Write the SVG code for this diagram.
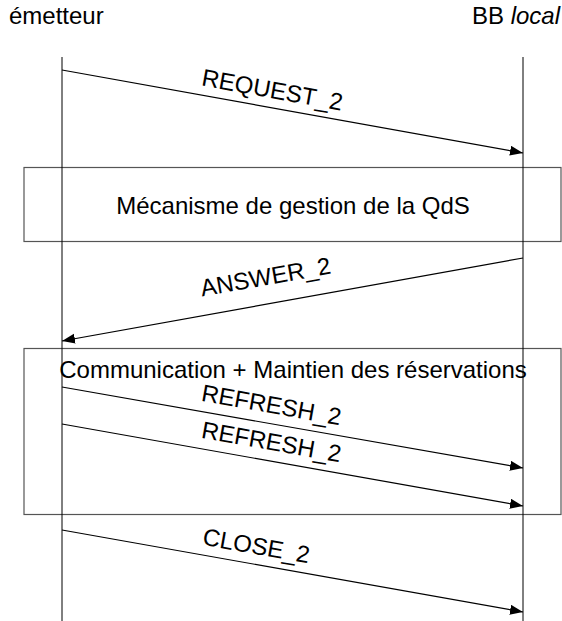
<svg xmlns="http://www.w3.org/2000/svg" width="562" height="621" viewBox="0 0 562 621">
<style>
text { font-family: "Liberation Sans", Arial, sans-serif; fill: #000; }
.h { font-size: 24px; }
.lbl { font-size: 24px; text-anchor: middle; }
.box { fill: none; stroke: #555; stroke-width: 1.2; }
.life { stroke: #000; stroke-width: 1; fill: none; }
.msg { stroke: #000; stroke-width: 1.2; fill: none; marker-end: url(#ah); }
</style>
<defs>
<marker id="ah" markerWidth="14" markerHeight="12" refX="13" refY="5" orient="auto" markerUnits="userSpaceOnUse">
<path d="M0,0 L13,5 L0,10 Z" fill="#000"/>
</marker>
</defs>
<g id="emetteur"><text class="h" x="9" y="24">émetteur</text></g>
<g id="bblocal"><text class="h" x="560" y="24" text-anchor="end">BB <tspan font-style="italic">local</tspan></text></g>
<g id="box-qds">
<rect class="box" x="24" y="167.5" width="537" height="74"/>
<text class="h" x="293" y="214" text-anchor="middle">Mécanisme de gestion de la QdS</text>
</g>
<g id="box-comm">
<rect class="box" x="24" y="348.5" width="537" height="166"/>
<text class="h" x="293" y="378" text-anchor="middle">Communication + Maintien des réservations</text>
</g>
<g id="lifelines">
<line class="life" x1="62" y1="57" x2="62" y2="621"/>
<line class="life" x1="523" y1="57" x2="523" y2="621"/>
</g>
<g id="connectors">
<line class="msg" x1="62" y1="70" x2="523" y2="153"/>
<text class="lbl" transform="translate(271,98) rotate(10.2)">REQUEST_2</text>
<line class="msg" x1="523" y1="258" x2="62" y2="341"/>
<text class="lbl" transform="translate(267,285) rotate(-10.1)">ANSWER_2</text>
<line class="msg" x1="62" y1="387" x2="523" y2="468"/>
<text class="lbl" transform="translate(270,413) rotate(10)">REFRESH_2</text>
<line class="msg" x1="62" y1="424" x2="523" y2="506"/>
<text class="lbl" transform="translate(270,450) rotate(10)">REFRESH_2</text>
<line class="msg" x1="62" y1="530" x2="523" y2="612"/>
<text class="lbl" transform="translate(255,554) rotate(10)">CLOSE_2</text>
</g>
</svg>
